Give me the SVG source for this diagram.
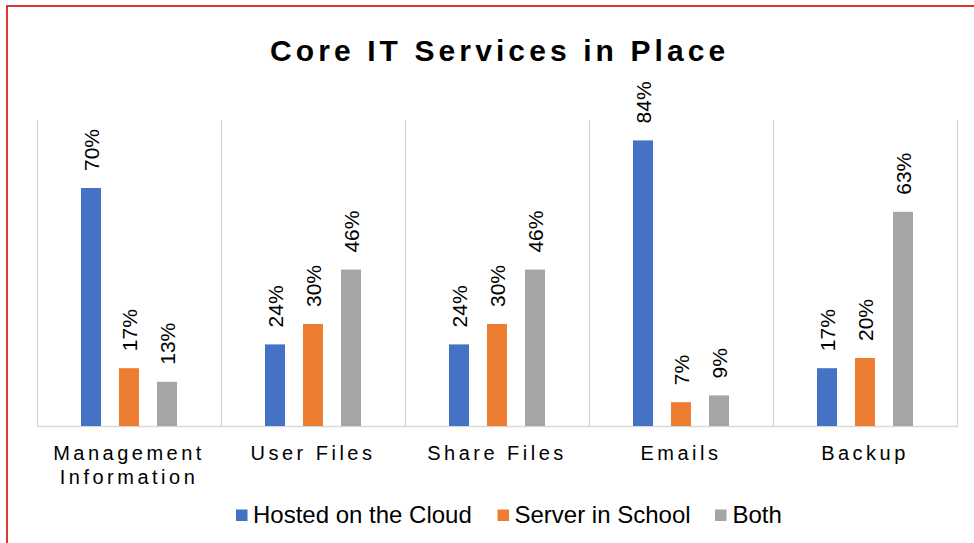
<svg xmlns="http://www.w3.org/2000/svg" width="974" height="543" viewBox="0 0 974 543">
<style>
.grid{stroke:#d9d9d9;stroke-width:1.3;fill:none}
.b1{fill:#4472C4}.b2{fill:#ED7D31}.b3{fill:#A5A5A5}
.val{font-family:"Liberation Sans",Arial,sans-serif;font-size:21px;fill:#000}
.cat{font-family:"Liberation Sans",Arial,sans-serif;font-size:20px;letter-spacing:3.5px;fill:#000;text-anchor:middle}
.leg{font-family:"Liberation Sans",Arial,sans-serif;font-size:24px;fill:#000}
.title{font-family:"Liberation Sans",Arial,sans-serif;font-size:30px;font-weight:bold;letter-spacing:4.1px;fill:#000}
</style>
<rect x="0" y="0" width="974" height="543" fill="#fff"/>
<rect x="7" y="6" width="1000" height="600" fill="none" stroke="#dd0000" stroke-width="1.6"/>
<text id="title" class="title" x="270" y="61">Core IT Services in Place</text>
<g id="gridlines">
<path class="grid" d="M37.5 120V426M221.5 120V426M405.5 120V426M589.5 120V426M773.5 120V426M957.5 120V426M37 426.5H958"/>
</g>
<g id="cat-management">
<rect class="b1" x="81" y="188" width="20" height="238"/>
<rect class="b2" x="119" y="368.2" width="20" height="57.8"/>
<rect class="b3" x="157" y="381.8" width="20" height="44.2"/>
<text class="val" transform="translate(98.5,171) rotate(-90)">70%</text>
<text class="val" transform="translate(136.5,351.2) rotate(-90)">17%</text>
<text class="val" transform="translate(174.5,364.8) rotate(-90)">13%</text>
<text class="cat" x="129" y="460">Management</text>
<text class="cat" x="129" y="484">Information</text>
</g>
<g id="cat-userfiles">
<rect class="b1" x="265" y="344.4" width="20" height="81.6"/>
<rect class="b2" x="303" y="324" width="20" height="102"/>
<rect class="b3" x="341" y="269.6" width="20" height="156.4"/>
<text class="val" transform="translate(282.5,327.4) rotate(-90)">24%</text>
<text class="val" transform="translate(320.5,307) rotate(-90)">30%</text>
<text class="val" transform="translate(358.5,252.6) rotate(-90)">46%</text>
<text class="cat" x="313" y="460">User Files</text>
</g>
<g id="cat-sharefiles">
<rect class="b1" x="449" y="344.4" width="20" height="81.6"/>
<rect class="b2" x="487" y="324" width="20" height="102"/>
<rect class="b3" x="525" y="269.6" width="20" height="156.4"/>
<text class="val" transform="translate(466.5,327.4) rotate(-90)">24%</text>
<text class="val" transform="translate(504.5,307) rotate(-90)">30%</text>
<text class="val" transform="translate(542.5,252.6) rotate(-90)">46%</text>
<text class="cat" x="497" y="460">Share Files</text>
</g>
<g id="cat-emails">
<rect class="b1" x="633" y="140.4" width="20" height="285.6"/>
<rect class="b2" x="671" y="402.2" width="20" height="23.8"/>
<rect class="b3" x="709" y="395.4" width="20" height="30.6"/>
<text class="val" transform="translate(650.5,123.4) rotate(-90)">84%</text>
<text class="val" transform="translate(688.5,385.2) rotate(-90)">7%</text>
<text class="val" transform="translate(726.5,378.4) rotate(-90)">9%</text>
<text class="cat" x="681" y="460">Emails</text>
</g>
<g id="cat-backup">
<rect class="b1" x="817" y="368.2" width="20" height="57.8"/>
<rect class="b2" x="855" y="358" width="20" height="68"/>
<rect class="b3" x="893" y="211.8" width="20" height="214.2"/>
<text class="val" transform="translate(834.5,351.2) rotate(-90)">17%</text>
<text class="val" transform="translate(872.5,341) rotate(-90)">20%</text>
<text class="val" transform="translate(910.5,194.8) rotate(-90)">63%</text>
<text class="cat" x="865" y="460">Backup</text>
</g>
<g id="legend">
<rect class="b1" x="236" y="509.5" width="11.5" height="11.5"/>
<text class="leg" x="253" y="522.5">Hosted on the Cloud</text>
<rect class="b2" x="497.5" y="509.5" width="11.5" height="11.5"/>
<text class="leg" x="514.5" y="522.5">Server in School</text>
<rect class="b3" x="715" y="509.5" width="11.5" height="11.5"/>
<text class="leg" x="732.5" y="522.5">Both</text>
</g>
</svg>
